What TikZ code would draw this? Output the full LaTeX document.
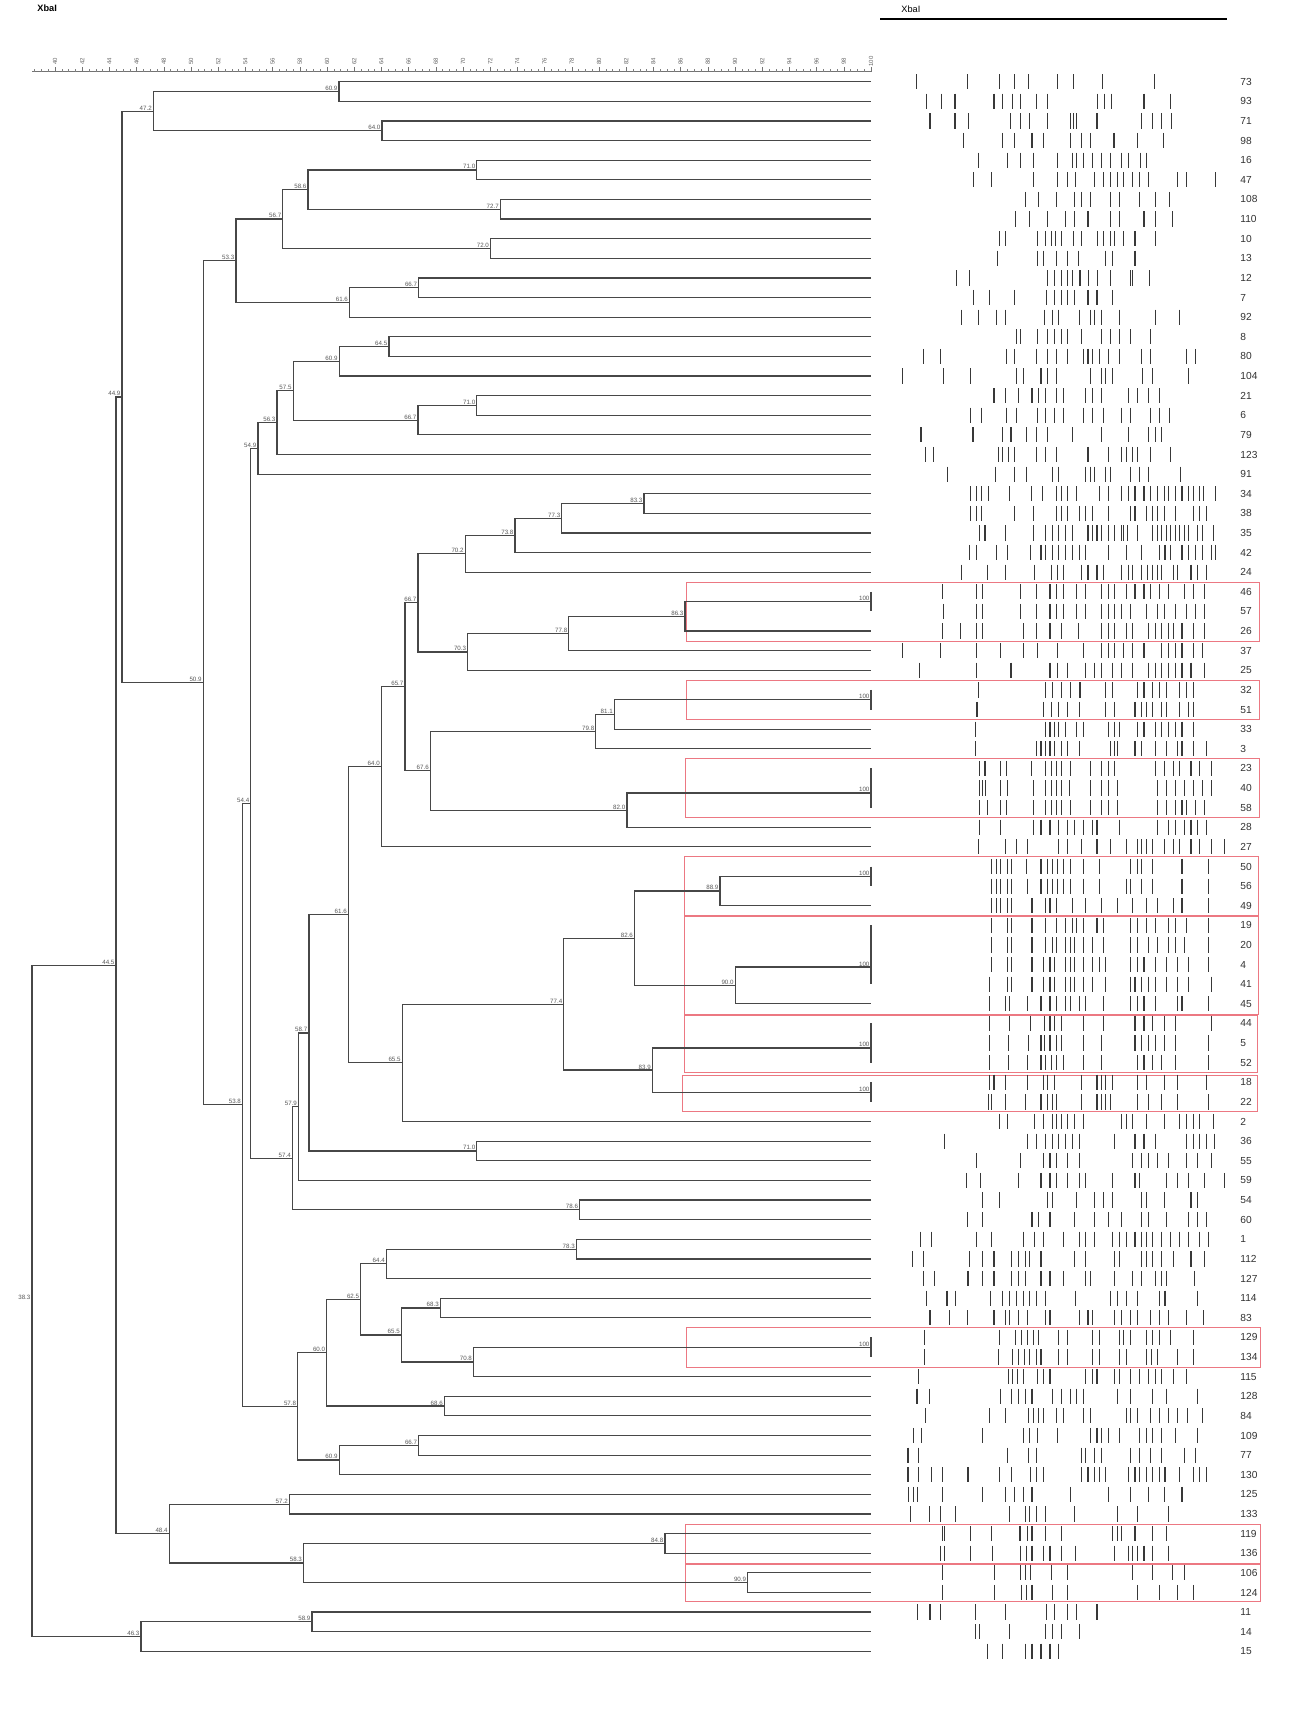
\documentclass[tikz,border=0pt]{standalone}
\usepackage{fontspec}
\setmainfont{Liberation Sans}
\usetikzlibrary{calc}
\definecolor{boxred}{RGB}{236,120,130}
\newcommand\jn[5]{%
  \path let \p1=(#3), \p2=(#4) in coordinate (#1) at ({#2*0.5pt},{0.5*\y1+0.5*\y2});
  \draw[br] (#3) -| (#1) |- (#4);
  \node[nlab] at ([xshift=-0.6pt,yshift=0.3pt]#1) {#5};
}
\begin{document}
\begin{tikzpicture}[x=0.5pt,y=-0.5pt,
  br/.style={draw=black!72, line width=0.6pt},
  nlab/.style={font=\fontsize{3.1}{3.3}\selectfont, text=black!65, inner sep=0pt, anchor=south east},
  leaflab/.style={font=\fontsize{5.1}{6}\selectfont, text=black!80, inner sep=0pt, anchor=west},
  band/.style={draw=black!78, line width=0.55pt},
  redbox/.style={draw=boxred, line width=0.5pt},
  rulab/.style={font=\fontsize{3}{3.2}\selectfont, text=black!60, inner sep=0pt, rotate=90, anchor=center}
]
\useasboundingbox[fill=white] (0,0) rectangle (1302,1736);

% headers
\node[font=\fontsize{4.6}{5}\selectfont\bfseries, inner sep=0pt, anchor=west] (hdl) at (37,8.5) {XbaI};
\node[font=\fontsize{4.6}{5}\selectfont, inner sep=0pt, anchor=west] (hdr) at (901,9) {XbaI};
\draw[black, line width=0.7pt] (880,19) -- (1227,19);

% ruler
\draw[black!55, line width=0.35pt] (32,71.5) -- (871,71.5);
\foreach \i in {0,...,123} \draw[black!50, line width=0.25pt] ({871-\i*6.8},71.5) -- ++(0,-2.2);
\foreach \v in {40,42,...,100} {
  \draw[black!55, line width=0.3pt] ({871-(100-\v)*13.6},71.5) -- ++(0,-5);
  \node[rulab] at ({871-(100-\v)*13.6},61.5) {\v};
}

% red boxes
\draw[redbox] (686.5,582) rectangle (1259.5,641);
\draw[redbox] (686.5,680.2) rectangle (1259.5,719.4);
\draw[redbox] (685,758.6) rectangle (1259.5,817.4);
\draw[redbox] (684,856.7) rectangle (1258.5,915.5);
\draw[redbox] (684,916.7) rectangle (1258.5,1014.5);
\draw[redbox] (684,1015.5) rectangle (1257.5,1072);
\draw[redbox] (682.5,1075) rectangle (1257.5,1111.7);
\draw[redbox] (686,1327.8) rectangle (1260,1367);
\draw[redbox] (685,1524.5) rectangle (1260,1563);
\draw[redbox] (685,1564.2) rectangle (1260,1601.5);

% leaves: label / band positions
\foreach \lab/\bl [count=\r] in {
73/{707,820,893,925,958,1022,1058,1122,1238},
93/{730,762,793,880,900,922,940,975,1000,1112,1127,1142,1215,1275},
71/{737,793,823,917,940,960,1000,1050,1058,1065,1110,1210,1235,1255,1277},
98/{812,900,925,965,990,1050,1075,1095,1148,1200,1258},
16/{845,910,940,968,1022,1055,1065,1080,1100,1120,1140,1165,1180,1208,1220},
47/{835,875,968,1022,1045,1062,1105,1125,1140,1155,1170,1190,1205,1225,1290,1310,1375},
108/{950,980,1020,1060,1075,1095,1140,1160,1205,1240,1272},
110/{928,960,1000,1040,1060,1090,1140,1160,1215,1240,1278},
10/{893,905,978,995,1008,1018,1030,1058,1075,1112,1125,1140,1150,1170,1195,1240},
13/{888,978,990,1020,1045,1068,1130,1145,1195},
12/{797,826,1000,1015,1030,1045,1055,1072,1092,1112,1140,1185,1190,1228},
7/{835,870,925,998,1015,1030,1045,1060,1090,1110,1145},
92/{808,845,885,905,992,1010,1025,1070,1095,1105,1120,1160,1240,1295},
8/{930,940,978,1000,1015,1030,1045,1075,1120,1140,1160,1185,1230},
80/{723,760,908,925,975,1000,1020,1045,1080,1090,1100,1115,1135,1160,1210,1230,1310,1330},
104/{675,768,828,930,945,985,1000,1020,1095,1120,1130,1145,1212,1235,1315},
21/{880,905,935,965,980,995,1020,1035,1085,1100,1120,1180,1200,1225,1250},
6/{828,852,908,930,978,995,1015,1035,1080,1100,1125,1165,1185,1230,1250,1272},
79/{717,833,900,918,953,975,1000,1055,1120,1180,1225,1240,1255},
123/{727,745,890,900,912,925,975,995,1020,1090,1135,1165,1175,1190,1200,1230,1275},
91/{777,883,925,952,1010,1025,1085,1095,1105,1130,1140,1185,1205,1225,1297},
34/{828,840,853,868,915,963,988,1020,1030,1045,1065,1115,1135,1165,1180,1195,1215,1230,1245,1260,1270,1285,1300,1315,1325,1340,1348,1375},
38/{828,840,853,925,968,1020,1030,1045,1070,1085,1100,1135,1185,1195,1220,1235,1245,1260,1285,1325,1340,1355},
35/{848,860,905,968,995,1010,1025,1040,1055,1090,1100,1110,1120,1135,1150,1165,1170,1178,1200,1235,1245,1255,1265,1275,1285,1295,1305,1315,1335,1345,1370},
42/{825,840,885,910,962,985,995,1010,1025,1040,1055,1070,1085,1135,1175,1210,1250,1262,1275,1300,1315,1330,1345,1365,1375},
24/{808,865,905,970,1008,1022,1035,1075,1090,1110,1125,1165,1180,1190,1210,1222,1235,1245,1255,1280,1290,1320,1335,1355},
46/{765,840,855,940,975,1005,1020,1035,1065,1085,1120,1135,1150,1175,1195,1215,1230,1250,1270,1305,1325,1350},
57/{768,840,855,940,975,1005,1020,1035,1065,1085,1120,1135,1150,1165,1185,1220,1245,1260,1285,1310,1330,1350},
26/{765,805,840,855,945,975,1005,1030,1068,1120,1135,1150,1175,1190,1225,1240,1255,1270,1280,1300,1325,1350},
37/{675,760,840,895,945,978,1022,1080,1120,1135,1150,1170,1190,1215,1255,1270,1285,1300,1325,1345},
25/{713,840,918,1005,1022,1045,1085,1105,1120,1145,1165,1190,1225,1240,1255,1270,1285,1300,1320,1350},
32/{845,995,1010,1030,1050,1072,1130,1145,1200,1215,1235,1250,1265,1295,1310,1325},
51/{842,990,1008,1025,1045,1070,1130,1150,1195,1210,1220,1235,1255,1265,1295,1315,1325},
33/{838,995,1005,1015,1025,1040,1065,1080,1135,1150,1160,1200,1215,1240,1255,1270,1285,1300,1325},
3/{838,975,985,995,1005,1015,1030,1045,1070,1140,1150,1155,1195,1210,1240,1265,1290,1300,1325,1355},
23/{848,860,895,908,963,995,1008,1020,1030,1050,1095,1120,1135,1150,1240,1260,1280,1295,1320,1340,1365},
40/{848,855,862,895,910,968,995,1008,1020,1030,1048,1095,1120,1135,1155,1245,1265,1285,1305,1325,1345,1365},
58/{848,865,895,908,968,995,1008,1020,1030,1050,1095,1120,1135,1155,1245,1265,1285,1300,1310,1330,1350},
28/{848,895,968,985,1005,1025,1045,1060,1080,1100,1110,1160,1245,1270,1285,1305,1320,1335,1355},
27/{845,905,930,955,1025,1045,1075,1110,1140,1175,1200,1210,1220,1235,1260,1280,1295,1320,1340,1365,1395},
50/{875,885,895,910,920,952,985,1000,1010,1022,1035,1050,1080,1115,1185,1200,1210,1235,1300,1360},
56/{875,885,895,910,920,955,985,1000,1010,1022,1035,1050,1080,1115,1175,1185,1210,1235,1300,1360},
49/{875,885,895,910,920,965,995,1005,1020,1055,1085,1120,1155,1190,1220,1245,1280,1300,1360},
19/{875,910,920,965,995,1020,1040,1055,1065,1080,1110,1125,1185,1200,1220,1240,1270,1285,1310,1360},
20/{875,910,920,965,995,1010,1020,1040,1050,1060,1080,1100,1125,1185,1200,1225,1245,1270,1285,1305,1360},
4/{875,910,920,965,990,1005,1015,1040,1050,1060,1080,1100,1115,1130,1185,1200,1215,1240,1265,1290,1315,1360},
41/{870,910,920,965,990,1005,1015,1040,1050,1060,1080,1100,1130,1185,1195,1210,1225,1240,1265,1290,1315,1365},
45/{870,905,915,955,985,1005,1020,1040,1050,1070,1085,1125,1185,1200,1215,1240,1290,1300,1360},
44/{870,915,962,992,1005,1015,1030,1080,1125,1195,1215,1235,1260,1285,1365},
5/{870,912,958,985,992,1005,1020,1030,1080,1120,1195,1210,1225,1240,1260,1285,1360},
52/{870,912,955,985,995,1008,1020,1035,1080,1120,1200,1215,1235,1255,1285,1360},
18/{870,880,905,955,990,1000,1015,1075,1110,1120,1130,1145,1200,1220,1260,1290,1355},
22/{868,875,905,950,985,1000,1010,1020,1075,1110,1120,1130,1140,1200,1225,1255,1290,1360},
2/{893,910,970,990,1010,1020,1030,1045,1060,1080,1165,1175,1190,1220,1260,1295,1310,1325,1340,1370},
36/{770,955,975,995,1010,1025,1040,1055,1070,1150,1195,1215,1240,1310,1325,1340,1355,1372},
55/{840,940,990,1005,1020,1045,1070,1190,1210,1225,1245,1270,1310,1335,1365},
59/{818,850,935,985,1005,1020,1045,1070,1085,1145,1195,1205,1265,1290,1315,1350,1395},
54/{855,893,1000,1010,1065,1105,1125,1145,1210,1220,1260,1320,1335},
60/{820,855,965,980,1005,1060,1105,1135,1165,1210,1225,1265,1315,1335,1355},
1/{715,740,840,875,945,970,990,1035,1070,1085,1105,1145,1160,1175,1195,1210,1220,1235,1255,1275,1295,1315,1340,1360},
112/{698,722,825,855,880,920,935,950,960,985,1060,1085,1150,1160,1210,1220,1235,1255,1280,1320,1350},
127/{722,748,822,855,880,920,935,950,985,1005,1035,1085,1095,1150,1190,1210,1240,1255,1265,1328},
114/{730,775,795,873,900,915,930,945,960,975,995,1062,1140,1155,1175,1200,1250,1262,1335},
83/{737,780,820,880,905,915,935,955,995,1005,1070,1090,1100,1150,1165,1185,1200,1230,1250,1270,1310,1348},
129/{725,893,928,942,955,968,980,1025,1045,1100,1115,1160,1170,1185,1220,1235,1250,1275,1325},
134/{725,890,922,935,948,960,975,985,1025,1045,1100,1115,1160,1175,1220,1232,1245,1290,1325},
115/{712,912,922,932,945,978,990,1005,1085,1100,1110,1150,1160,1185,1205,1225,1240,1255,1280,1310},
128/{708,735,895,920,935,950,965,1010,1030,1050,1065,1080,1155,1185,1235,1265,1335},
84/{727,870,905,958,968,980,990,1020,1035,1080,1095,1175,1185,1200,1230,1250,1270,1290,1312,1345},
109/{700,718,855,945,960,978,1022,1095,1110,1120,1135,1160,1205,1220,1235,1255,1285,1335},
77/{688,712,910,958,975,1075,1085,1105,1120,1185,1205,1230,1255,1305,1330},
130/{688,712,740,765,822,893,920,962,975,990,1075,1090,1105,1115,1130,1180,1195,1205,1220,1235,1250,1262,1295,1325,1340,1355},
125/{690,700,710,765,855,905,925,945,965,1050,1135,1185,1225,1260,1300},
133/{693,735,760,795,915,950,960,975,995,1060,1155,1200,1270},
119/{765,770,828,875,938,955,965,995,1030,1145,1155,1165,1195,1235,1265},
136/{760,770,828,877,940,952,965,990,1005,1030,1062,1150,1180,1190,1200,1215,1235,1270},
106/{765,882,940,950,962,1008,1045,1190,1235,1278,1305},
124/{765,882,942,952,965,1010,1045,1200,1250,1290,1325},
11/{710,737,760,838,905,998,1015,1045,1065,1110},
14/{838,848,915,995,1010,1030,1070},
15/{865,900,950,965,985,1005,1025}%
} {
  \pgfmathsetmacro\yy{81.7+(\r-1)*19.62}
  \coordinate (L\r) at (871,\yy);
  \node[leaflab] (t\r) at (1240,\yy) {\lab};
  \foreach \b in \bl \draw[band] ({600+\b/2.2336},{\yy-7.6}) -- ++(0,15.2);
}

% tree
\jn{n1}{339}{L1}{L2}{60.9}
\jn{n2}{382}{L3}{L4}{64.0}
\jn{n3}{153.4}{n1}{n2}{47.2}
\jn{n4}{476.8}{L5}{L6}{71.0}
\jn{n5}{500.4}{L7}{L8}{72.7}
\jn{n6}{308}{n4}{n5}{58.6}
\jn{n7}{490.5}{L9}{L10}{72.0}
\jn{n8}{282.8}{n6}{n7}{56.7}
\jn{n9}{418.7}{L11}{L12}{66.7}
\jn{n10}{349.5}{n9}{L13}{61.6}
\jn{n11}{235.9}{n8}{n10}{53.3}
\jn{n12}{388.9}{L14}{L15}{64.5}
\jn{n13}{339.1}{n12}{L16}{60.9}
\jn{n14}{476.8}{L17}{L18}{71.0}
\jn{n15}{418}{n14}{L19}{66.7}
\jn{n16}{293.1}{n13}{n15}{57.5}
\jn{n17}{277}{n16}{L20}{56.3}
\jn{n18}{257.9}{n17}{L21}{54.9}
\jn{n19}{644}{L22}{L23}{83.3}
\jn{n20}{561.8}{n19}{L24}{77.3}
\jn{n21}{515}{n20}{L25}{73.8}
\jn{n22}{465.2}{n21}{L26}{70.2}
\jn{n23}{871}{L27}{L28}{100}
\jn{n24}{685}{n23}{L29}{86.3}
\jn{n25}{568.8}{n24}{L30}{77.8}
\jn{n26}{467.7}{n25}{L31}{70.3}
\jn{n27}{418}{n22}{n26}{66.7}
\jn{n28}{871}{L32}{L33}{100}
\jn{n29}{614.4}{n28}{L34}{81.1}
\jn{n30}{595.8}{n29}{L35}{79.8}
\jn{n31}{871}{L36}{L37}{}
\jn{n32}{871}{n31}{L38}{100}
\jn{n33}{626.9}{n32}{L39}{82.0}
\jn{n34}{430.3}{n30}{n33}{67.6}
\jn{n35}{405}{n27}{n34}{65.7}
\jn{n36}{381.4}{n35}{L40}{64.0}
\jn{n37}{871}{L41}{L42}{100}
\jn{n38}{720}{n37}{L43}{88.9}
\jn{n39}{871}{L44}{L45}{}
\jn{n40}{871}{n39}{L46}{}
\jn{n41}{871}{n40}{L47}{100}
\jn{n42}{735.2}{n41}{L48}{90.0}
\jn{n43}{634.5}{n38}{n42}{82.6}
\jn{n44}{871}{L49}{L50}{}
\jn{n45}{871}{n44}{L51}{100}
\jn{n46}{871}{L52}{L53}{100}
\jn{n47}{652.4}{n45}{n46}{83.9}
\jn{n48}{563.8}{n43}{n47}{77.4}
\jn{n49}{402.2}{n48}{L54}{65.5}
\jn{n50}{348.3}{n36}{n49}{61.6}
\jn{n51}{476.8}{L55}{L56}{71.0}
\jn{n52}{308.9}{n50}{n51}{58.7}
\jn{n53}{298.5}{n52}{L57}{57.9}
\jn{n54}{579.6}{L58}{L59}{78.6}
\jn{n55}{292.3}{n53}{n54}{57.4}
\jn{n56}{250.8}{n18}{n55}{54.4}
\jn{n57}{576.3}{L60}{L61}{78.3}
\jn{n58}{386.4}{n57}{L62}{64.4}
\jn{n59}{440.3}{L63}{L64}{68.3}
\jn{n60}{871}{L65}{L66}{100}
\jn{n61}{473.5}{n60}{L67}{70.8}
\jn{n62}{401.3}{n59}{n61}{65.5}
\jn{n63}{360.7}{n58}{n62}{62.5}
\jn{n64}{444.4}{L68}{L69}{68.6}
\jn{n65}{326.7}{n63}{n64}{60.0}
\jn{n66}{418.7}{L70}{L71}{66.7}
\jn{n67}{339.1}{n66}{L72}{60.9}
\jn{n68}{297.7}{n65}{n67}{57.8}
\jn{n69}{242.5}{n56}{n68}{53.8}
\jn{n70}{203.2}{n11}{n69}{50.9}
\jn{n71}{122}{n3}{n70}{44.9}
\jn{n72}{289.4}{L73}{L74}{57.2}
\jn{n73}{664.9}{L75}{L76}{84.8}
\jn{n74}{747.7}{L77}{L78}{90.9}
\jn{n75}{303.5}{n73}{n74}{58.3}
\jn{n76}{169.2}{n72}{n75}{48.4}
\jn{n77}{116}{n71}{n76}{44.5}
\jn{n78}{312}{L79}{L80}{58.9}
\jn{n79}{141}{n78}{L81}{46.3}
\jn{root}{32}{n77}{n79}{38.3}
\end{tikzpicture}
\end{document}
